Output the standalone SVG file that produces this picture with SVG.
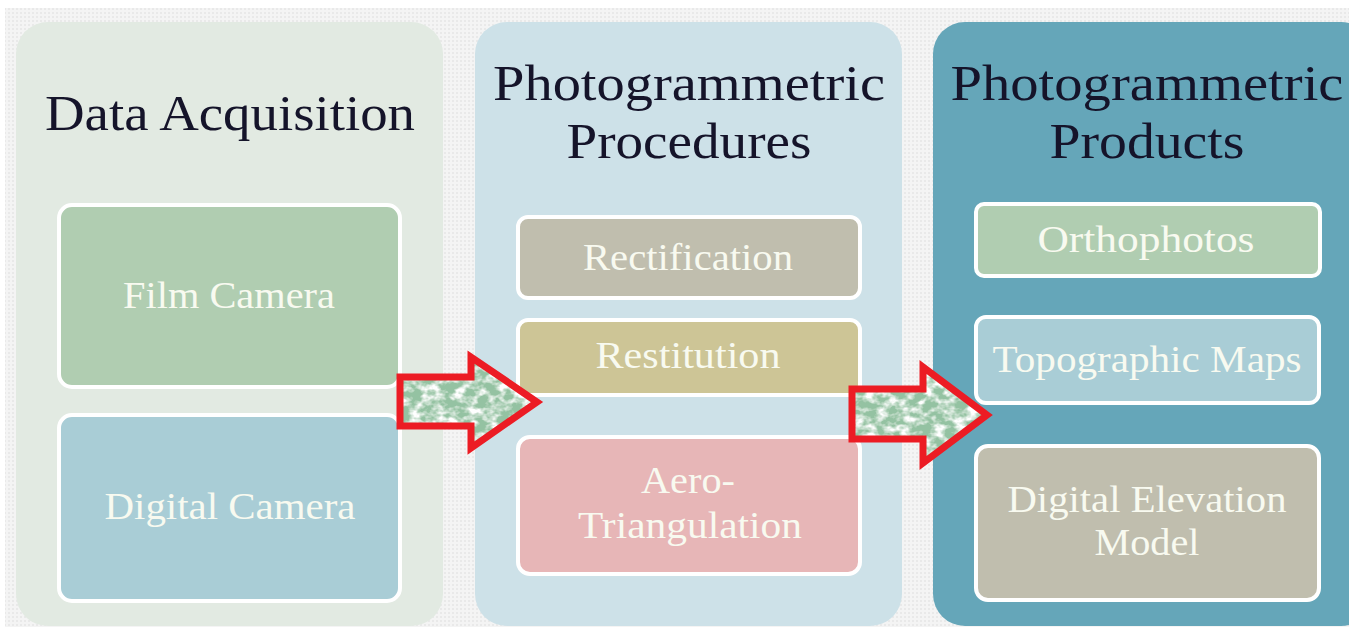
<svg xmlns="http://www.w3.org/2000/svg" width="1349" height="627" viewBox="0 0 1349 627">
<style>
.panel{stroke:none}
.box{stroke:#ffffff;stroke-width:4}
.title{font-family:"Liberation Serif","DejaVu Serif",serif;font-size:50px;fill:#15142a;text-anchor:middle}
.lbl{font-family:"Liberation Serif","DejaVu Serif",serif;font-size:38px;fill:#f8faf0;text-anchor:middle}
.arrow-outline{fill:none;stroke:#ec1c24;stroke-width:7;stroke-linejoin:miter}
</style>
<defs>
<pattern id="dots" width="4" height="4" patternUnits="userSpaceOnUse">
<rect width="4" height="4" fill="#f4f4f4"/>
<rect x="0" y="0" width="2" height="2" fill="#e9e9e9"/>
</pattern>
<filter id="moss" x="0" y="0" width="1" height="1" filterUnits="objectBoundingBox">
<feTurbulence type="fractalNoise" baseFrequency="0.09 0.12" numOctaves="3" seed="7" result="n"/>
<feColorMatrix in="n" type="matrix" values="0 0 0 0 0.30  0 0 0 0 0.54  0 0 0 0 0.36  -3.2 0 0 0 2.3" result="g"/>
<feComposite in="g" in2="SourceGraphic" operator="in"/>
</filter>
</defs>
<rect x="0" y="0" width="1349" height="627" fill="#ffffff"/>
<rect x="5" y="8" width="1344" height="619" fill="url(#dots)"/>

<g id="panel-acquisition">
<rect class="panel" x="16" y="22" width="427" height="604" rx="32" fill="#e2eae2"/>
<text class="title" x="230" y="130" textLength="370" lengthAdjust="spacingAndGlyphs">Data Acquisition</text>
</g>
<g id="panel-procedures">
<rect class="panel" x="475" y="22" width="427" height="604" rx="32" fill="#cde1e8"/>
<text class="title" x="689" y="100" textLength="392" lengthAdjust="spacingAndGlyphs">Photogrammetric</text>
<text class="title" x="689" y="158" textLength="245" lengthAdjust="spacingAndGlyphs">Procedures</text>
</g>
<g id="panel-products">
<rect class="panel" x="933" y="22" width="440" height="604" rx="32" fill="#65a6b9"/>
<text class="title" x="1147" y="100" textLength="393" lengthAdjust="spacingAndGlyphs">Photogrammetric</text>
<text class="title" x="1147" y="158" textLength="195" lengthAdjust="spacingAndGlyphs">Products</text>
</g>

<g id="node-film-camera">
<rect class="box" x="59" y="205" width="341" height="182" rx="13" fill="#b0cdb1"/>
<text class="lbl" x="229" y="308" textLength="212" lengthAdjust="spacingAndGlyphs">Film Camera</text>
</g>
<g id="node-digital-camera">
<rect class="box" x="59" y="415" width="341" height="186" rx="13" fill="#a9cdd6"/>
<text class="lbl" x="230" y="519" textLength="251" lengthAdjust="spacingAndGlyphs">Digital Camera</text>
</g>

<g id="node-rectification">
<rect class="box" x="518" y="217" width="342" height="81" rx="10" fill="#c0beae"/>
<text class="lbl" x="688" y="270" textLength="210" lengthAdjust="spacingAndGlyphs">Rectification</text>
</g>
<g id="node-restitution">
<rect class="box" x="518" y="320" width="342" height="75" rx="10" fill="#cdc596"/>
<text class="lbl" x="688" y="368" textLength="185" lengthAdjust="spacingAndGlyphs">Restitution</text>
</g>
<g id="node-aero-triangulation">
<rect class="box" x="518" y="437" width="342" height="137" rx="12" fill="#e7b6b7"/>
<text class="lbl" x="688" y="493" textLength="94" lengthAdjust="spacingAndGlyphs">Aero-</text>
<text class="lbl" x="690" y="538" textLength="224" lengthAdjust="spacingAndGlyphs">Triangulation</text>
</g>

<g id="node-orthophotos">
<rect class="box" x="976" y="204" width="344" height="72" rx="8" fill="#b0cdb1"/>
<text class="lbl" x="1146" y="252" textLength="217" lengthAdjust="spacingAndGlyphs">Orthophotos</text>
</g>
<g id="node-topographic-maps">
<rect class="box" x="976" y="317" width="343" height="86" rx="10" fill="#a9cdd6"/>
<text class="lbl" x="1147" y="372" textLength="309" lengthAdjust="spacingAndGlyphs">Topographic Maps</text>
</g>
<g id="node-dem">
<rect class="box" x="976" y="446" width="343" height="154" rx="12" fill="#c0beae"/>
<text class="lbl" x="1147" y="512" textLength="279" lengthAdjust="spacingAndGlyphs">Digital Elevation</text>
<text class="lbl" x="1147" y="555" textLength="105" lengthAdjust="spacingAndGlyphs">Model</text>
</g>

<g id="connectors">
<g id="arrow-1">
<path d="M400,377 H471 V357 L537,402 L471,448 V426 H400 Z" fill="#ffffff"/>
<path d="M400,377 H471 V357 L537,402 L471,448 V426 H400 Z" fill="#ffffff" filter="url(#moss)"/>
<path class="arrow-outline" d="M400,377 H471 V357 L537,402 L471,448 V426 H400 Z"/>
</g>
<g id="arrow-2">
<path d="M852,389 H923 V367 L987,415 L923,463 V439 H852 Z" fill="#ffffff"/>
<path d="M852,389 H923 V367 L987,415 L923,463 V439 H852 Z" fill="#ffffff" filter="url(#moss)"/>
<path class="arrow-outline" d="M852,389 H923 V367 L987,415 L923,463 V439 H852 Z"/>
</g>
</g>
</svg>
